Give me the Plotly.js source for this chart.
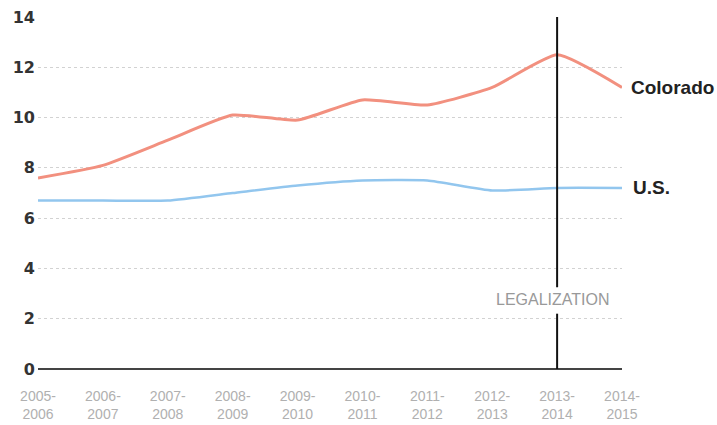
<!DOCTYPE html>
<html>
<head>
<meta charset="utf-8">
<script src="https://cdn.plot.ly/plotly-3.0.1.min.js"></script>
<style>html,body{margin:0;padding:0;background:#fff;}#chart{width:717px;height:425px;}</style>
</head>
<body>
<div id="chart"></div>
<script>
const years = ["2005-<br>2006","2006-<br>2007","2007-<br>2008","2008-<br>2009","2009-<br>2010","2010-<br>2011","2011-<br>2012","2012-<br>2013","2013-<br>2014","2014-<br>2015"];
const colorado = [7.6, 8.1, 9.1, 10.1, 9.9, 10.7, 10.5, 11.2, 12.5, 11.2];
const us = [6.7, 6.7, 6.7, 7.0, 7.3, 7.5, 7.5, 7.1, 7.2, 7.2];
const yTicks = [0, 2, 4, 6, 8, 10, 12, 14];
const legalizationYear = "2013-<br>2014";
const seriesNames = ["Colorado", "U.S."];

const traces = [
  {x: years, y: colorado, type: 'scatter', mode: 'lines', name: seriesNames[0],
   line: {color: '#f2907f', width: 3, shape: 'spline', smoothing: 0.5}, hoverinfo: 'skip'},
  {x: years, y: us, type: 'scatter', mode: 'lines', name: seriesNames[1],
   line: {color: '#92c6ee', width: 2.5, shape: 'spline', smoothing: 0.5}, hoverinfo: 'skip'}
];

const layout = {
  width: 717, height: 425,
  margin: {l: 38, r: 95, t: 17, b: 56},
  paper_bgcolor: '#fff', plot_bgcolor: '#fff',
  showlegend: false,
  xaxis: {
    type: 'category', range: [0, years.length - 1],
    showgrid: false, zeroline: false, showline: false,
    ticks: '', ticklabelstandoff: 17,
    tickfont: {family: 'Liberation Sans, Arial, sans-serif', size: 14, color: '#b0b0b0'},
    fixedrange: true
  },
  yaxis: {
    range: [0, 14], tickvals: yTicks, ticktext: yTicks.map(String),
    showgrid: true, gridcolor: '#d2d2d2', griddash: 'dot', gridwidth: 1.2,
    zeroline: true, zerolinecolor: '#444', zerolinewidth: 1.5,
    showline: false, ticks: '', ticklabelstandoff: 2,
    tickfont: {family: 'DejaVu Sans, sans-serif', size: 16, color: '#333', weight: 'bold'},
    fixedrange: true
  },
  shapes: [
    {type: 'line', xref: 'x', yref: 'y', x0: legalizationYear, x1: legalizationYear, y0: 0, y1: 2.2,
     line: {color: '#111', width: 2}},
    {type: 'line', xref: 'x', yref: 'y', x0: legalizationYear, x1: legalizationYear, y0: 3.25, y1: 14,
     line: {color: '#111', width: 2}}
  ],
  annotations: [
    {xref: 'x', yref: 'y', x: legalizationYear, y: 2.75, text: 'LEGALIZATION', showarrow: false,
     xshift: -4, font: {family: 'Liberation Sans, Arial, sans-serif', size: 16, color: '#999'}},
    {xref: 'paper', yref: 'y', x: 1, y: colorado[colorado.length - 1], xanchor: 'left', xshift: 7,
     text: seriesNames[0], showarrow: false,
     font: {family: 'Liberation Sans, Arial, sans-serif', size: 19, color: '#222', weight: 'bold'}},
    {xref: 'paper', yref: 'y', x: 1, y: us[us.length - 1], xanchor: 'left', xshift: 9,
     text: seriesNames[1], showarrow: false,
     font: {family: 'Liberation Sans, Arial, sans-serif', size: 19, color: '#222', weight: 'bold'}}
  ]
};

Plotly.newPlot('chart', traces, layout, {displayModeBar: false, staticPlot: true});
</script>
</body>
</html>
